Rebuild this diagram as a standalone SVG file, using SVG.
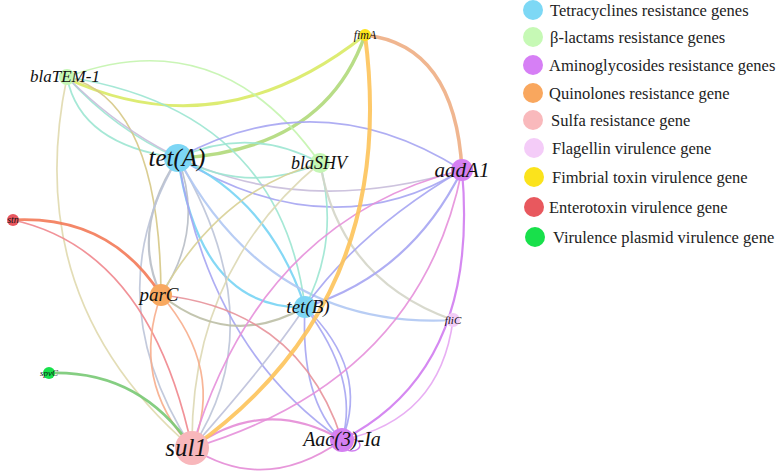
<svg xmlns="http://www.w3.org/2000/svg" width="780" height="474" viewBox="0 0 780 474">
<style>
.e{fill:none;stroke-linecap:round;opacity:0.9}
.lbl{font-style:italic;fill:#111;text-anchor:middle}
.leg{font-size:16.5px;fill:#222}
</style>
<rect width="780" height="474" fill="#fff"/>
<g id="edges" stroke-width="1.7">
<path class="e" d="M66,78 Q220,150 365,35" stroke="#d9ea64" stroke-width="3"/>
<path class="e" d="M178,158 Q325,150 365,35" stroke="#b0d97a" stroke-width="3.5"/>
<path class="e" d="M365,35 Q455,45 462,170" stroke="#eeae84" stroke-width="3.5"/>
<path class="e" d="M67,77 Q220,20 320,163" stroke="#c4f4ae"/>
<path class="e" d="M67,77 Q80,145 178,158" stroke="#9ce5d2"/>
<path class="e" d="M67,77 Q115,130 178,158" stroke="#9ce5d2"/>
<path class="e" d="M67,77 Q280,110 305,307" stroke="#9ce5d2"/>
<path class="e" d="M67,77 Q160,100 161,295" stroke="#d6c886"/>
<path class="e" d="M67,77 Q20,300 192,448" stroke="#e0d9ae"/>
<path class="e" d="M67,77 Q230,240 462,170" stroke="#c8bcda"/>
<path class="e" d="M178,158 Q320,80 462,170" stroke="#a6a5f2"/>
<path class="e" d="M178,158 Q330,250 462,170" stroke="#a6a5f2"/>
<path class="e" d="M178,158 Q250,125 320,163" stroke="#9ce5d2"/>
<path class="e" d="M178,158 Q250,195 320,163" stroke="#9ce5d2"/>
<path class="e" d="M178,158 Q200,310 305,307" stroke="#78d4f4" stroke-width="2.2"/>
<path class="e" d="M178,158 Q270,200 305,307" stroke="#78d4f4" stroke-width="2.2"/>
<path class="e" d="M178,158 Q130,230 161,295" stroke="#b8bec6" stroke-width="2.2"/>
<path class="e" d="M178,158 Q205,230 161,295" stroke="#b8bec6"/>
<path class="e" d="M178,158 Q275,323 192,448" stroke="#bcc4d8"/>
<path class="e" d="M178,158 Q95,297 192,448" stroke="#bcc4d8"/>
<path class="e" d="M178,158 Q210,350 342,440" stroke="#a6a5f2"/>
<path class="e" d="M178,158 Q270,330 453,320" stroke="#b0c8f3" stroke-width="2.2"/>
<path class="e" d="M320,163 Q220,190 161,295" stroke="#d8d096"/>
<path class="e" d="M320,163 Q190,270 192,448" stroke="#ddd8b4"/>
<path class="e" d="M320,163 Q340,240 305,307" stroke="#9ce5d2"/>
<path class="e" d="M320,163 Q340,280 453,320" stroke="#d4d5c8" stroke-width="2.2"/>
<path class="e" d="M305,307 Q410,275 462,170" stroke="#a6a5f2" stroke-width="2.2"/>
<path class="e" d="M305,307 Q360,230 462,170" stroke="#a6a5f2"/>
<path class="e" d="M305,307 Q370,370 342,440" stroke="#a6a5f2"/>
<path class="e" d="M305,307 Q360,380 342,440" stroke="#a6a5f2"/>
<path class="e" d="M305,307 Q300,400 342,440" stroke="#a6a5f2"/>
<path class="e" d="M305,307 Q270,360 192,448" stroke="#bec1da"/>
<path class="e" d="M161,295 Q230,350 305,307" stroke="#bcbfa6" stroke-width="2.2"/>
<path class="e" d="M13,220 Q110,215 161,295" stroke="#f37a58" stroke-width="2.8"/>
<path class="e" d="M13,220 Q150,250 192,448" stroke="#ef868d"/>
<path class="e" d="M161,295 Q130,380 192,448" stroke="#f7ad8c"/>
<path class="e" d="M161,295 Q225,370 192,448" stroke="#f7ad8c"/>
<path class="e" d="M161,295 Q300,310 342,440" stroke="#e7929a"/>
<path class="e" d="M49,373 Q140,370 192,448" stroke="#78c974" stroke-width="2.8"/>
<path class="e" d="M192,448 Q260,220 462,170" stroke="#e690da"/>
<path class="e" d="M192,448 Q420,380 462,170" stroke="#e690da"/>
<path class="e" d="M192,448 Q265,395 342,440" stroke="#e48cd6" stroke-width="2.2"/>
<path class="e" d="M192,448 Q265,495 342,440" stroke="#e48cd6"/>
<path class="e" d="M462,170 Q480,370 342,440" stroke="#d07cf0" stroke-width="2.2"/>
<path class="e" d="M453,320 Q440,420 342,440" stroke="#e6a6f2"/>
<path class="e" d="M365,35 Q400,300 192,448" stroke="#fdc35a" stroke-width="4"/>
<ellipse cx="352" cy="445" rx="8" ry="6" fill="none" stroke="#d07cf0" stroke-width="1.5"/>
</g>
<g font-family="Liberation Serif, Times New Roman, serif">
<g id="node-fimA"><circle cx="365" cy="35" r="6" fill="#fde41d"/><text class="lbl" x="365" y="38.5" font-size="12" font-family="Liberation Serif, serif">fimA</text></g>
<g id="node-blaTEM-1"><circle cx="67" cy="77" r="8" fill="#c5f7b5"/><text class="lbl" x="65" y="82" font-size="17" font-family="Liberation Serif, serif">blaTEM-1</text></g>
<g id="node-tetA"><circle cx="178" cy="158" r="14" fill="#7dd6f5"/><text class="lbl" x="177" y="165.5" font-size="25" font-family="Liberation Serif, serif">tet(A)</text></g>
<g id="node-blaSHV"><circle cx="320" cy="163" r="10" fill="#c5f7b5"/><text class="lbl" x="319" y="168.5" font-size="18" font-family="Liberation Serif, serif">blaSHV</text></g>
<g id="node-aadA1"><circle cx="462" cy="170" r="11" fill="#d580f2"/><text class="lbl" x="462" y="176.5" font-size="21" font-family="Liberation Serif, serif">aadA1</text></g>
<g id="node-stn"><circle cx="13" cy="220" r="6" fill="#e8575f"/><text class="lbl" x="13" y="223" font-size="10" font-family="Liberation Serif, serif">stn</text></g>
<g id="node-parC"><circle cx="161" cy="295" r="11" fill="#f8a85f"/><text class="lbl" x="159" y="301" font-size="19" font-family="Liberation Serif, serif">parC</text></g>
<g id="node-tetB"><circle cx="305" cy="307" r="11" fill="#7dd6f5"/><text class="lbl" x="308" y="313" font-size="19" font-family="Liberation Serif, serif">tet(B)</text></g>
<g id="node-fliC"><circle cx="453" cy="320" r="7" fill="#f2cdf7"/><text class="lbl" x="453" y="323.5" font-size="11" font-family="Liberation Serif, serif">fliC</text></g>
<g id="node-spvC"><circle cx="49" cy="373" r="6" fill="#17e14b"/><text class="lbl" x="49" y="376" font-size="9" font-family="Liberation Serif, serif">spvC</text></g>
<g id="node-sul1"><circle cx="192" cy="448" r="17" fill="#f8b7bb"/><text class="lbl" x="186" y="456" font-size="25" font-family="Liberation Serif, serif">sul1</text></g>
<g id="node-Aac3Ia"><circle cx="342" cy="440" r="12" fill="#d580f2"/><text class="lbl" x="342" y="446" font-size="20" font-family="Liberation Serif, serif">Aac(3)-Ia</text></g>
<g id="legend" font-family="Liberation Serif, serif">
<circle cx="533" cy="10" r="10" fill="#7dd8f5"/><text class="leg" x="550" y="16">Tetracyclines resistance genes</text>
<circle cx="533" cy="37" r="10" fill="#c6f9b5"/><text class="leg" x="550" y="43">β-lactams resistance genes</text>
<circle cx="533" cy="65" r="10" fill="#d67ff5"/><text class="leg" x="549" y="71">Aminoglycosides resistance genes</text>
<circle cx="533" cy="93" r="10" fill="#f9a75e"/><text class="leg" x="549" y="99">Quinolones resistance gene</text>
<circle cx="533" cy="120" r="10" fill="#f9b9bc"/><text class="leg" x="551" y="126">Sulfa resistance gene</text>
<circle cx="534" cy="148" r="10" fill="#f4ccf8"/><text class="leg" x="552" y="154">Flagellin virulence gene</text>
<circle cx="534" cy="177" r="10" fill="#fbe31c"/><text class="leg" x="552" y="183">Fimbrial toxin virulence gene</text>
<circle cx="534" cy="207" r="10" fill="#e8585e"/><text class="leg" x="549" y="213">Enterotoxin virulence gene</text>
<circle cx="535" cy="237" r="10" fill="#18e04b"/><text class="leg" x="553" y="243">Virulence plasmid virulence gene</text>
</g>
</g>
</svg>
